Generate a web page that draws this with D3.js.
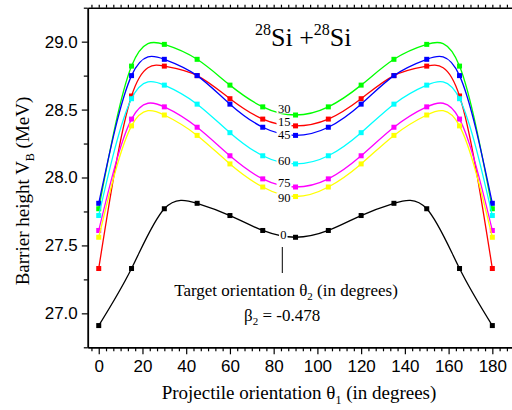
<!DOCTYPE html>
<html>
<head>
<meta charset="utf-8">
<script src="https://cdn.jsdelivr.net/npm/d3@7"></script>
<style>
  html, body { margin: 0; padding: 0; background: #fff; }
  svg { display: block; }
</style>
</head>
<body>
<svg id="chart" width="512" height="410"></svg>
<script>
// ---- data ----
const angles = [0, 15, 30, 45, 60, 75, 90, 105, 120, 135, 150, 165, 180];
const v0  = [26.91, 27.33, 27.77, 27.81, 27.72, 27.61, 27.56, 27.61, 27.72, 27.81, 27.77, 27.33, 26.91];
const v15 = [27.33, 28.60, 28.82, 28.75, 28.58, 28.43, 28.38, 28.43, 28.58, 28.75, 28.82, 28.60, 27.33];
const v30 = [27.77, 28.82, 28.98, 28.87, 28.68, 28.52, 28.46, 28.52, 28.68, 28.87, 28.98, 28.82, 27.77];
const v45 = [27.81, 28.75, 28.87, 28.75, 28.54, 28.37, 28.31, 28.37, 28.54, 28.75, 28.87, 28.75, 27.81];
const v60 = [27.72, 28.58, 28.68, 28.54, 28.33, 28.16, 28.10, 28.16, 28.33, 28.54, 28.68, 28.58, 27.72];
const v75 = [27.61, 28.43, 28.52, 28.37, 28.16, 27.99, 27.93, 27.99, 28.16, 28.37, 28.52, 28.43, 27.61];
const v90 = [27.56, 28.38, 28.46, 28.31, 28.10, 27.93, 27.86, 27.93, 28.10, 28.31, 28.46, 28.38, 27.56];
const seriesLabels = ["0", "15", "30", "45", "60", "75", "90"];
const seriesValues = [v0, v15, v30, v45, v60, v75, v90];
const seriesColors = ["#000000", "#ff0000", "#00ff00", "#0000ff", "#00ffff", "#ff00ff", "#ffff00"];
const xTicks = [0, 20, 40, 60, 80, 100, 120, 140, 160, 180];
const yTicks = [27.0, 27.5, 28.0, 28.5, 29.0];
const yMinor = [26.75, 27.25, 27.75, 28.25, 28.75, 29.25];
// label baselines expressed in data units (next to theta = 90)
const labelY = {"30": 28.4785, "15": 28.379, "45": 28.280, "60": 28.09, "75": 27.93, "90": 27.82, "0": 27.545};

// ---- scales ----
const svg = d3.select("#chart");
const x = d3.scaleLinear().domain([-5, 190]).range([87.8, 514.2]);
const y = d3.scaleLinear().domain([26.75, 29.25]).range([347.3, 7.7]);

const xMinor = [];
for (let k = -1; k <= 57; k++) { if (k % 6 !== 0) xMinor.push(k * 20 / 6); }

const tickFont = "Liberation Sans, Arial, sans-serif";
const serif = "Liberation Serif, Times New Roman, serif";

// ---- axes ----
function styleAxis(g) {
  g.selectAll("path.domain").attr("stroke", "#000").attr("stroke-width", 1.5);
  g.selectAll(".tick line").attr("stroke", "#000").attr("stroke-width", 1.2);
  g.selectAll(".tick text").attr("fill", "#000").style("font-family", tickFont).style("font-size", "17px");
}

const bottomMinor = svg.append("g").attr("transform", `translate(0,${y(26.75)})`)
  .call(d3.axisBottom(x).tickValues(xMinor).tickSize(4).tickSizeOuter(0).tickFormat(""));
styleAxis(bottomMinor);
const bottom = svg.append("g").attr("transform", `translate(0,${y(26.75)})`)
  .call(d3.axisBottom(x).tickValues(xTicks).tickSize(7).tickPadding(6).tickSizeOuter(0).tickFormat(d3.format("d")));
styleAxis(bottom);

const topAx = svg.append("g").attr("transform", `translate(0,${y(29.25)})`)
  .call(d3.axisTop(x).tickValues(xMinor.concat(xTicks)).tickSize(3).tickSizeOuter(0).tickFormat(""));
styleAxis(topAx);

const leftMinor = svg.append("g").attr("transform", `translate(${x(-5)},0)`)
  .call(d3.axisLeft(y).tickValues(yMinor).tickSize(4).tickSizeOuter(0).tickFormat(""));
styleAxis(leftMinor);
const left = svg.append("g").attr("transform", `translate(${x(-5)},0)`)
  .call(d3.axisLeft(y).tickValues(yTicks).tickSize(6).tickPadding(4).tickSizeOuter(0).tickFormat(d3.format(".1f")));
styleAxis(left);

// ---- series ----
const line = d3.line().x(d => x(d[0])).y(d => y(d[1])).curve(d3.curveNatural);
seriesValues.forEach((vals, i) => {
  const pts = angles.map((a, j) => [a, vals[j]]);
  svg.append("path").datum(pts).attr("d", line)
    .attr("fill", "none").attr("stroke", seriesColors[i]).attr("stroke-width", 1.3);
  svg.append("g").selectAll("rect").data(pts).join("rect")
    .attr("x", d => x(d[0]) - 2.5).attr("y", d => y(d[1]) - 2.5)
    .attr("width", 5).attr("height", 5).attr("fill", seriesColors[i]);
});

// ---- series labels (white backing hides the curve beneath, as in the original) ----
seriesLabels.forEach(lab => {
  const xr = x(90) - (lab === "0" ? 9 : 5);
  const yb = y(labelY[lab]);
  const w = lab.length * 6.5;
  svg.append("rect").attr("x", xr - w - 1).attr("y", yb - 9.5).attr("width", w + 2).attr("height", 10.5)
    .attr("fill", "#fff");
  svg.append("text").attr("x", xr).attr("y", yb)
    .attr("text-anchor", "end")
    .style("font-family", serif).style("font-size", "12.5px").attr("fill", "#000").text(lab);
});
// pointer line under "0"
svg.append("line").attr("x1", 282.3).attr("x2", 282.3).attr("y1", 247).attr("y2", 273)
  .attr("stroke", "#000").attr("stroke-width", 1);

// ---- title ----
const title = svg.append("text").attr("x", 255).attr("y", 46)
  .style("font-family", serif).style("font-size", "26px").attr("fill", "#000");
title.append("tspan").attr("dy", -11).style("font-size", "16px").text("28");
title.append("tspan").attr("dy", 11).text("Si +");
title.append("tspan").attr("dy", -11).style("font-size", "16px").text("28");
title.append("tspan").attr("dy", 11).text("Si");

// ---- annotations ----
const tgt = svg.append("text").attr("x", 286).attr("y", 296).attr("text-anchor", "middle")
  .style("font-family", serif).style("font-size", "17px").attr("fill", "#000");
tgt.append("tspan").text("Target orientation \u03B8");
tgt.append("tspan").attr("dy", 4).style("font-size", "11px").text("2");
tgt.append("tspan").attr("dy", -4).text(" (in degrees)");

const beta = svg.append("text").attr("x", 244).attr("y", 321)
  .style("font-family", serif).style("font-size", "17px").attr("fill", "#000");
beta.append("tspan").text("\u03B2");
beta.append("tspan").attr("dy", 4).style("font-size", "11px").text("2");
beta.append("tspan").attr("dy", -4).text(" = -0.478");

// ---- axis titles ----
const xt = svg.append("text").attr("x", 299).attr("y", 399).attr("text-anchor", "middle")
  .style("font-family", serif).style("font-size", "19px").attr("fill", "#000");
xt.append("tspan").text("Projectile orientation \u03B8");
xt.append("tspan").attr("dy", 5).style("font-size", "12px").text("1");
xt.append("tspan").attr("dy", -5).text(" (in degrees)");

const yt = svg.append("text").attr("transform", "translate(29,191) rotate(-90)").attr("text-anchor", "middle")
  .style("font-family", serif).style("font-size", "19px").attr("fill", "#000");
yt.append("tspan").text("Barrier height V");
yt.append("tspan").attr("dy", 5).style("font-size", "12px").text("B");
yt.append("tspan").attr("dy", -5).text(" (MeV)");
</script>
</body>
</html>
